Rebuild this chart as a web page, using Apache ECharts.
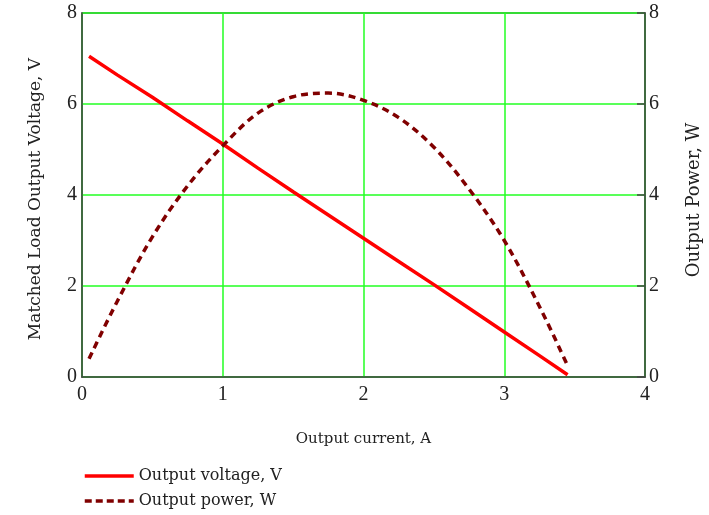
<!DOCTYPE html>
<html>
<head>
<meta charset="utf-8">
<script src="https://cdn.jsdelivr.net/npm/echarts@6/dist/echarts.min.js"></script>
<style>
  html, body { margin: 0; padding: 0; background: #fff; }
  #chart { width: 709px; height: 515px; }
</style>
</head>
<body>
<div id="chart"></div>
<script>
// Output current samples (A)
const current = [0.05, 0.25, 0.5, 0.75, 1.0, 1.25, 1.5, 1.75, 2.0, 2.25, 2.5, 2.75, 3.0, 3.25, 3.45];
// Matched load output voltage (V)
const voltage = [7.05, 6.64, 6.15, 5.63, 5.12, 4.59, 4.07, 3.56, 3.05, 2.54, 2.03, 1.51, 0.99, 0.47, 0.05];
// Output power (W)
const power = [0.40, 1.66, 3.08, 4.20, 5.08, 5.80, 6.16, 6.24, 6.08, 5.70, 5.05, 4.13, 3.00, 1.55, 0.25];

const xTicks = [0, 1, 2, 3, 4];
const yTicks = [0, 2, 4, 6, 8];

const labelFont = 'DejaVu Serif';
const tickFont = 'Liberation Serif';
const textColor = '#222';
const axisColor = '#444';
const gridGreen = '#22ff22';
const voltColor = '#ff0000';
const powerColor = '#800000';

const chart = echarts.init(document.getElementById('chart'), null, { renderer: 'canvas' });

chart.setOption({
  animation: false,
  backgroundColor: '#fff',
  textStyle: { fontFamily: labelFont, color: textColor },
  grid: {
    left: 82, right: 64, top: 13, bottom: 138,
    outerBoundsMode: 'none',
    show: true, borderColor: axisColor, borderWidth: 1.5
  },
  legend: {
    orient: 'vertical',
    left: 83, top: 468,
    padding: 0,
    itemWidth: 49, itemHeight: 16, itemGap: 9,
    itemStyle: { opacity: 0 },
    textStyle: { fontFamily: labelFont, fontSize: 16, color: textColor },
    data: [
      { name: 'Output voltage, V', lineStyle: { color: voltColor, width: 3.5, type: 'solid' } },
      { name: 'Output power, W', lineStyle: { color: powerColor, width: 3.5, type: [7, 4] } }
    ]
  },
  xAxis: {
    type: 'value',
    min: xTicks[0], max: xTicks[xTicks.length - 1], interval: 1,
    name: 'Output current, A',
    nameLocation: 'middle', nameGap: 55,
    nameTextStyle: { fontFamily: labelFont, fontSize: 15, color: textColor },
    axisLine: { show: true, lineStyle: { color: axisColor, width: 1.5 } },
    axisTick: { show: false },
    axisLabel: { fontFamily: tickFont, fontSize: 20, color: textColor, margin: 8 },
    splitLine: { show: true, lineStyle: { color: gridGreen, width: 1.5 } }
  },
  yAxis: [
    {
      type: 'value',
      min: yTicks[0], max: yTicks[yTicks.length - 1], interval: 2,
      position: 'left',
      name: 'Matched Load Output Voltage, V',
      nameLocation: 'middle', nameGap: 38, nameRotate: 90,
      nameTextStyle: { fontFamily: labelFont, fontSize: 17, color: textColor, padding: [0, 8, 0, 0] },
      axisLine: { show: true, lineStyle: { color: axisColor, width: 1.5 } },
      axisTick: { show: false },
      axisLabel: { fontFamily: tickFont, fontSize: 20, color: textColor, margin: 5 },
      splitLine: { show: true, lineStyle: { color: gridGreen, width: 1.5 } }
    },
    {
      type: 'value',
      min: yTicks[0], max: yTicks[yTicks.length - 1], interval: 2,
      position: 'right',
      name: 'Output Power, W',
      nameLocation: 'middle', nameGap: 40, nameRotate: 90,
      nameTextStyle: { fontFamily: labelFont, fontSize: 18, color: textColor, padding: [0, 10, 0, 0] },
      axisLine: { show: true, lineStyle: { color: axisColor, width: 1.5 } },
      axisTick: { show: true, inside: true, length: 8, lineStyle: { color: axisColor, width: 1.5 } },
      axisLabel: { fontFamily: tickFont, fontSize: 20, color: textColor, margin: 4 },
      splitLine: { show: false }
    }
  ],
  series: [
    {
      name: 'Output voltage, V',
      type: 'line',
      yAxisIndex: 0,
      data: current.map((c, i) => [c, voltage[i]]),
      showSymbol: false, symbol: 'none',
      lineStyle: { color: voltColor, width: 3.5 },
      itemStyle: { color: voltColor },
      z: 3
    },
    {
      name: 'Output power, W',
      type: 'line',
      yAxisIndex: 1,
      data: current.map((c, i) => [c, power[i]]),
      smooth: 0.35,
      showSymbol: false, symbol: 'none',
      lineStyle: { color: powerColor, width: 3.5, type: [7, 5] },
      itemStyle: { color: powerColor },
      z: 4
    }
  ]
});
</script>
</body>
</html>
